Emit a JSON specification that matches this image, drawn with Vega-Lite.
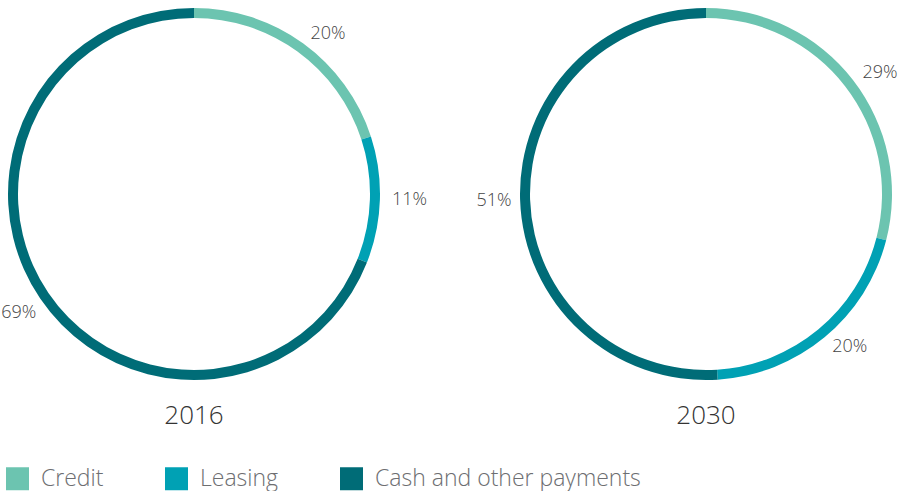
{
  "$schema": "https://vega.github.io/schema/vega-lite/v6.json",
  "padding": 0,
  "background": "white",
  "data": {"values": [
    {"year": "2016", "type": "Credit", "order": 1, "share": 20, "label": "20%"},
    {"year": "2016", "type": "Leasing", "order": 2, "share": 11, "label": "11%"},
    {"year": "2016", "type": "Cash and other payments", "order": 3, "share": 69, "label": "69%"},
    {"year": "2030", "type": "Credit", "order": 1, "share": 29, "label": "29%"},
    {"year": "2030", "type": "Leasing", "order": 2, "share": 20, "label": "20%"},
    {"year": "2030", "type": "Cash and other payments", "order": 3, "share": 51, "label": "51%"}
  ]},
  "facet": {
    "column": {
      "field": "year", "type": "ordinal", "title": null,
      "header": {"labelOrient": "bottom", "labelFontSize": 26, "labelFont": "Open Sans", "labelFontWeight": 300, "labelColor": "#333333", "labelPadding": 15}
    }
  },
  "spacing": 124,
  "bounds": "flush",
  "spec": {
    "width": 388,
    "height": 388,
    "encoding": {
      "theta": {"field": "share", "type": "quantitative", "stack": true},
      "order": {"field": "order", "type": "quantitative"}
    },
    "layer": [
      {
        "mark": {"type": "arc", "outerRadius": 186, "innerRadius": 176, "stroke": null},
        "encoding": {
          "color": {
            "field": "type", "type": "nominal",
            "scale": {"domain": ["Credit", "Leasing", "Cash and other payments"], "range": ["#6cc4b0", "#00a1b4", "#006c77"]},
            "legend": {
              "title": null, "orient": "none", "direction": "horizontal", "legendX": 6, "legendY": 467,
              "symbolType": "square", "symbolSize": 529, "symbolStrokeWidth": 0, "symbolOpacity": 1,
              "labelFontSize": 23, "labelFont": "Open Sans", "labelFontWeight": 300, "labelColor": "#6d6e71",
              "labelOffset": 12, "columnPadding": 61, "labelLimit": 500
            }
          }
        }
      },
      {
        "mark": {
          "type": "text", "fontSize": 18, "font": "Open Sans", "fontWeight": 300, "fill": "#444444",
          "radius": {"expr": "datum.type === 'Cash and other payments' ? 212 : 198"},
          "align": {"expr": "datum.type === 'Cash and other payments' ? 'center' : 'left'"}
        },
        "encoding": {
          "text": {"field": "label", "type": "nominal"},
          "detail": {"field": "type"}
        }
      }
    ]
  },
  "config": {"view": {"stroke": null}}
}
